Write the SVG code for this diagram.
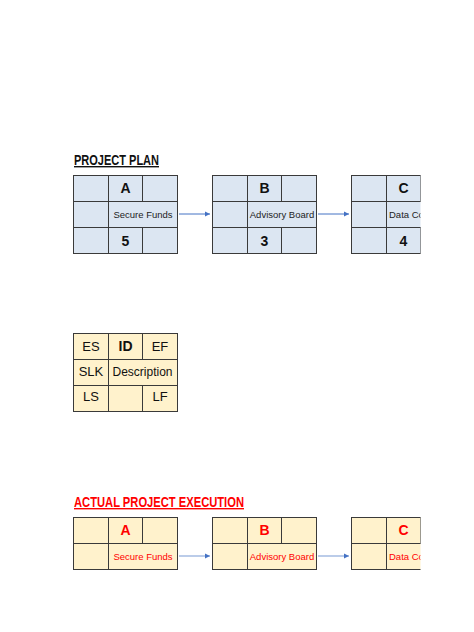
<svg xmlns="http://www.w3.org/2000/svg" width="474" height="632" viewBox="0 0 474 632">
<style>
.plan{fill:#DCE6F2;stroke:#3A3A3A;stroke-width:1}
.yel{fill:#FFF2CC;stroke:#3A3A3A;stroke-width:1}
.ln{stroke:#3A3A3A;stroke-width:1;fill:none}
text{font-family:"Liberation Sans",Arial,sans-serif;fill:#111}
.big{font-size:14px;font-weight:bold;text-anchor:middle}
.reg{font-size:13px;text-anchor:middle}
.sm{font-size:9.5px;text-anchor:middle;fill:#222}
.red{fill:#FF0000}
.title{font-size:14px;font-weight:bold;text-decoration:underline}
.c1{stroke:#4472C4;stroke-width:1;fill:none}
.c2{stroke:#8EA9DB;stroke-width:1.2;fill:none}
</style>
<defs>
<marker id="ah1" markerWidth="6" markerHeight="6" refX="5" refY="3" orient="auto" markerUnits="userSpaceOnUse"><path d="M0,0.5 L5,3 L0,5.5 Z" fill="#4472C4"/></marker>
<marker id="ah2" markerWidth="6" markerHeight="6" refX="5" refY="3" orient="auto" markerUnits="userSpaceOnUse"><path d="M0,0.5 L5,3 L0,5.5 Z" fill="#4472C4"/></marker>
<clipPath id="clip"><rect x="0" y="0" width="420.5" height="632"/></clipPath>
</defs>
<rect width="474" height="632" fill="#fff"/>

<text x="74" y="165" class="title" textLength="85" lengthAdjust="spacingAndGlyphs">PROJECT PLAN</text>

<g id="planA">
<rect x="73.5" y="175.5" width="104" height="78" class="plan"/>
<path class="ln" d="M73.5 201.5H177.5M73.5 227.5H177.5M108.5 175.5V253.5M142.5 175.5V201.5M142.5 227.5V253.5"/>
<text x="125.5" y="193" class="big">A</text>
<text x="143" y="217.5" class="sm">Secure Funds</text>
<text x="125.5" y="245.5" class="big">5</text>
</g>
<g id="planB">
<rect x="212.5" y="175.5" width="104" height="78" class="plan"/>
<path class="ln" d="M212.5 201.5H316.5M212.5 227.5H316.5M247.5 175.5V253.5M281.5 175.5V201.5M281.5 227.5V253.5"/>
<text x="264.5" y="193" class="big">B</text>
<text x="282" y="217.5" class="sm">Advisory Board</text>
<text x="264.5" y="245.5" class="big">3</text>
</g>
<g id="planC" clip-path="url(#clip)">
<rect x="351.5" y="175.5" width="104" height="78" class="plan"/>
<path class="ln" d="M351.5 201.5H455.5M351.5 227.5H455.5M386.5 175.5V253.5M420.5 175.5V201.5M420.5 227.5V253.5"/>
<text x="403.5" y="193" class="big">C</text>
<text x="389" y="217.5" class="sm" style="text-anchor:start">Data Co</text>
<text x="403.5" y="245.5" class="big">4</text>
</g>

<g id="legend">
<rect x="73.5" y="333.5" width="104" height="78" class="yel"/>
<path class="ln" d="M73.5 359.5H177.5M73.5 385.5H177.5M108.5 333.5V411.5M142.5 333.5V359.5M142.5 385.5V411.5"/>
<text x="91" y="351" class="reg">ES</text>
<text x="125.5" y="351" class="big">ID</text>
<text x="160" y="351" class="reg">EF</text>
<text x="91" y="376" class="reg">SLK</text>
<text x="142.5" y="376" class="reg" style="font-size:12px">Description</text>
<text x="91" y="401" class="reg">LS</text>
<text x="160" y="401" class="reg">LF</text>
</g>

<text x="74" y="507" class="title red" textLength="170" lengthAdjust="spacingAndGlyphs">ACTUAL PROJECT EXECUTION</text>

<g id="execA">
<rect x="73.5" y="517.5" width="104" height="52" class="yel"/>
<path class="ln" d="M73.5 543.5H177.5M108.5 517.5V569.5M142.5 517.5V543.5"/>
<text x="125.5" y="535" class="big red">A</text>
<text x="143" y="559.5" class="sm red">Secure Funds</text>
</g>
<g id="execB">
<rect x="212.5" y="517.5" width="104" height="52" class="yel"/>
<path class="ln" d="M212.5 543.5H316.5M247.5 517.5V569.5M281.5 517.5V543.5"/>
<text x="264.5" y="535" class="big red">B</text>
<text x="282" y="559.5" class="sm red">Advisory Board</text>
</g>
<g id="execC" clip-path="url(#clip)">
<rect x="351.5" y="517.5" width="104" height="52" class="yel"/>
<path class="ln" d="M351.5 543.5H455.5M386.5 517.5V569.5M420.5 517.5V543.5"/>
<text x="403.5" y="535" class="big red">C</text>
<text x="389" y="559.5" class="sm red" style="text-anchor:start">Data Co</text>
</g>

<g id="connectors">
<line x1="179" y1="214" x2="210" y2="214" class="c1" marker-end="url(#ah1)"/>
<line x1="318" y1="214" x2="349" y2="214" class="c1" marker-end="url(#ah1)"/>
<line x1="179" y1="556" x2="210" y2="556" class="c2" marker-end="url(#ah2)"/>
<line x1="318" y1="556" x2="349" y2="556" class="c2" marker-end="url(#ah2)"/>
</g>
</svg>
